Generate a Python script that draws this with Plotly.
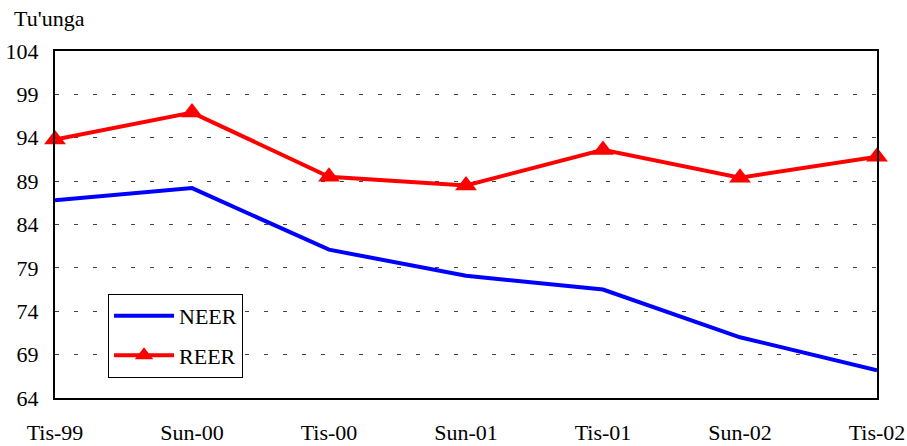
import plotly.graph_objects as go

categories = ["Tis-99", "Sun-00", "Tis-00", "Sun-01", "Tis-01", "Sun-02", "Tis-02"]
neer = [86.8, 88.2, 81.1, 78.1, 76.5, 71.0, 67.2]
reer = [93.8, 96.9, 89.5, 88.5, 92.6, 89.4, 91.8]
y_ticks = [64, 69, 74, 79, 84, 89, 94, 99, 104]
y_title = "Tu'unga"

FONT = "Liberation Serif, DejaVu Serif, serif"
FS = 22

fig = go.Figure()
fig.add_trace(go.Scatter(
    x=categories, y=neer, name="NEER", mode="lines",
    line=dict(color="#0000ff", width=4), cliponaxis=False, legendgroup="a"))
fig.add_trace(go.Scatter(
    x=categories, y=reer, name="REER", mode="lines+markers",
    line=dict(color="#ff0000", width=4),
    marker=dict(symbol="triangle-up", size=19, color="#ff0000"),
    cliponaxis=False, legendgroup="b"))

fig.update_layout(
    width=907, height=446,
    margin=dict(l=55, r=30, t=51, b=48, autoexpand=False),
    paper_bgcolor="white", plot_bgcolor="white",
    font=dict(family=FONT, size=FS, color="black"),
    showlegend=True,
    legend=dict(x=0.0645, y=0.30, xanchor="left", yanchor="top",
                bordercolor="black", borderwidth=1, bgcolor="white",
                font=dict(family=FONT, size=FS), tracegroupgap=8,
                itemwidth=60),
    xaxis=dict(type="category", range=[0, 6], showgrid=False,
               showline=True, linecolor="black", linewidth=2, mirror=True,
               ticks="", ticklabelstandoff=14, zeroline=False, automargin=False,
               tickfont=dict(family=FONT, size=FS)),
    yaxis=dict(range=[64, 104], tickvals=y_ticks, showgrid=True,
               gridcolor="#444444", griddash="4px,15px", gridwidth=1,
               showline=True, linecolor="black", linewidth=2, mirror=True,
               ticks="", ticklabelstandoff=10, zeroline=False, automargin=False,
               tickfont=dict(family=FONT, size=FS)),
    annotations=[dict(text=y_title, xref="paper", yref="paper",
                      x=-0.052, y=1.0, xanchor="left", yanchor="bottom",
                      yshift=18, showarrow=False,
                      font=dict(family=FONT, size=FS))],
)

fig.write_html("out.html",
               config={"displayModeBar": False},
               post_script="document.body.style.margin='0';document.body.style.overflow='hidden';")
